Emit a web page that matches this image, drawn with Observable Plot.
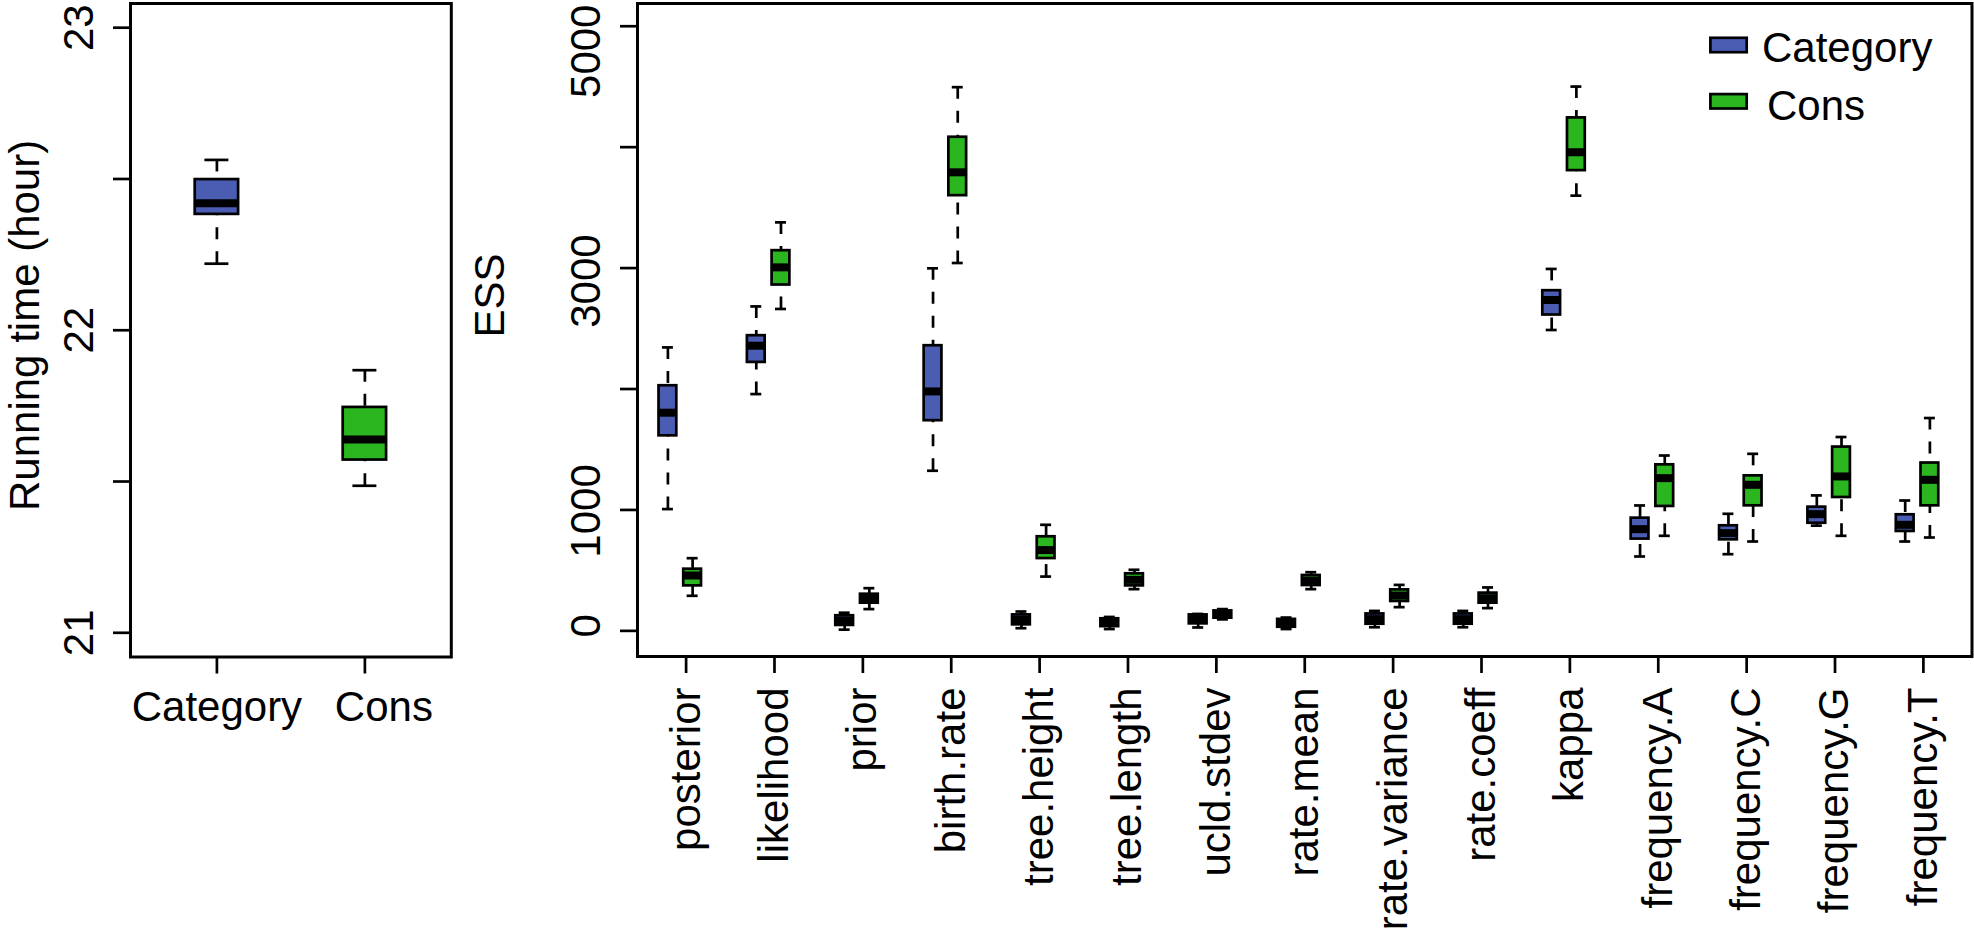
<!DOCTYPE html>
<html><head><meta charset="utf-8">
<script src="https://cdn.jsdelivr.net/npm/d3@7"></script>
<script src="https://cdn.jsdelivr.net/npm/@observablehq/plot@0.6"></script>
<style>
html,body{margin:0;padding:0;background:#fff;}
#wrap{position:relative;width:1974px;height:929px;overflow:hidden;background:#fff;}
#wrap > svg{position:absolute;top:0;}
</style></head><body><div id="wrap"></div>
<script>
// ---- Running time panel ----
const runGroups = ["Category", "Cons"];
const runLow  = [22.22, 21.486];
const runQ1   = [22.383, 21.571];
const runMed  = [22.42, 21.639];
const runQ3   = [22.498, 21.745];
const runHigh = [22.563, 21.868];
const runTicks = [21, 21.5, 22, 22.5, 23];
const runTickLabels = [21, 22, 23];

// ---- ESS panel ----
const params = ["posterior","likelihood","prior","birth.rate","tree.height","tree.length","ucld.stdev","rate.mean","rate.variance","rate.coeff","kappa","frequency.A","frequency.C","frequency.G","frequency.T"];
const catLow  = [1007, 1958, 10, 1324, 22, 15, 28, 15, 30, 30, 2488, 615, 634, 870, 739];
const catQ1   = [1613, 2220, 45, 1738, 50, 35, 58, 30, 55, 55, 2612, 759, 753, 890, 822];
const catMed  = [1804, 2358, 85, 1980, 91, 65, 97, 60, 97, 97, 2736, 841, 808, 965, 877];
const catQ3   = [2027, 2441, 125, 2358, 132, 100, 132, 95, 140, 140, 2813, 932, 869, 1023, 960];
const catHigh = [2344, 2683, 150, 2998, 160, 115, 140, 110, 165, 165, 2993, 1037, 968, 1120, 1078];
const consLow  = [290, 2662, 180, 3042, 449, 345, 95, 345, 196, 188, 3599, 786, 739, 786, 772];
const consQ1   = [372, 2860, 229, 3599, 598, 372, 105, 375, 243, 229, 3806, 1029, 1034, 1103, 1034];
const consMed  = [458, 3006, 265, 3792, 668, 422, 135, 416, 292, 270, 3958, 1263, 1208, 1277, 1249];
const consQ3   = [510, 3144, 303, 4082, 778, 472, 165, 458, 339, 312, 4242, 1373, 1282, 1520, 1388];
const consHigh = [601, 3378, 353, 4496, 877, 505, 180, 485, 380, 359, 4501, 1450, 1464, 1603, 1760];
const essTicks = [0, 1000, 2000, 3000, 4000, 5000];
const essTickLabels = [0, 1000, 3000, 5000];

const series = ["Category", "Cons"];
const seriesColors = ["#4b5cb3", "#2bb51f"];

const FONT = "'Liberation Sans', Arial, Helvetica, sans-serif";
const LW = 2.7;
const FS = 42;

const runData = runGroups.map((g, i) => ({group: g, low: runLow[i], q1: runQ1[i], med: runMed[i], q3: runQ3[i], high: runHigh[i]}));
const mk = (lo, a, m, b, hi) => params.map((p, i) => ({param: p, low: lo[i], q1: a[i], med: m[i], q3: b[i], high: hi[i]}));
const essCat = mk(catLow, catQ1, catMed, catQ3, catHigh);
const essCons = mk(consLow, consQ1, consMed, consQ3, consHigh);

const svgStyle = {fontFamily: FONT, fontSize: FS + "px", color: "black", background: "transparent", overflow: "visible"};

// Left plot
const left = Plot.plot({
  width: 470, height: 929,
  marginLeft: 130, marginRight: 19.2, marginTop: 3, marginBottom: 272.5,
  style: svgStyle,
  x: {type: "band", domain: runGroups, paddingInner: 0, paddingOuter: 0.0839, round: false, label: null},
  y: {domain: [20.92, 23.08], label: null},
  color: {domain: series, range: seriesColors},
  marks: [
    Plot.axisY({ticks: runTicks, tickSize: 17, tickFormat: () => "", strokeWidth: LW, label: null}),
    Plot.axisX({tickSize: 17, tickFormat: () => "", strokeWidth: LW, label: null}),
    Plot.text(runTickLabels, {y: d => d, text: d => String(d), frameAnchor: "left", textAnchor: "middle", lineAnchor: "middle", rotate: -90, dx: -51, fontSize: FS, fill: "black"}),
    Plot.text(runGroups.slice(0, 1), {x: d => d, text: d => d, frameAnchor: "bottom", textAnchor: "middle", lineAnchor: "top", dy: 34, fontSize: FS, fill: "black"}),
    Plot.text(runGroups.slice(1), {x: d => d, text: d => d, frameAnchor: "bottom", textAnchor: "middle", lineAnchor: "top", dx: 19, dy: 34, fontSize: FS, fill: "black"}),
    Plot.text(["Running time (hour)"], {frameAnchor: "left", textAnchor: "middle", lineAnchor: "middle", rotate: -90, dx: -105, dy: -4.85, fontSize: FS, fill: "black"}),
    Plot.ruleX(runData, {x: "group", y1: "low", y2: "q1", stroke: "black", strokeWidth: LW, strokeDasharray: "12,12"}),
    Plot.ruleX(runData, {x: "group", y1: "high", y2: "q3", stroke: "black", strokeWidth: LW, strokeDasharray: "12,12"}),
    Plot.tickY(runData, {x: "group", y: "low", stroke: "black", strokeWidth: LW, insetLeft: 62, insetRight: 62}),
    Plot.tickY(runData, {x: "group", y: "high", stroke: "black", strokeWidth: LW, insetLeft: 62, insetRight: 62}),
    Plot.barY(runData, {x: "group", y1: "q1", y2: "q3", fill: "group", stroke: "black", strokeWidth: LW, insetLeft: 52.3, insetRight: 52.3}),
    Plot.tickY(runData, {x: "group", y: "med", stroke: "black", strokeWidth: 8, insetLeft: 52.3, insetRight: 52.3}),
    Plot.frame({stroke: "black", strokeWidth: 3})
  ]
});

// Right plot
const boxMarks = (data, color, dx, boxL, boxR, capL, capR) => [
  Plot.ruleX(data, {x: "param", y1: "low", y2: "q1", dx, stroke: "black", strokeWidth: LW, strokeDasharray: "12,12"}),
  Plot.ruleX(data, {x: "param", y1: "high", y2: "q3", dx, stroke: "black", strokeWidth: LW, strokeDasharray: "12,12"}),
  Plot.tickY(data, {x: "param", y: "low", stroke: "black", strokeWidth: LW, insetLeft: capL, insetRight: capR}),
  Plot.tickY(data, {x: "param", y: "high", stroke: "black", strokeWidth: LW, insetLeft: capL, insetRight: capR}),
  Plot.barY(data, {x: "param", y1: "q1", y2: "q3", fill: color, stroke: "black", strokeWidth: LW, insetLeft: boxL, insetRight: boxR}),
  Plot.tickY(data, {x: "param", y: "med", stroke: "black", strokeWidth: 8, insetLeft: boxL, insetRight: boxR})
];

// the reference's ESS tick labels drift downward from their ticks as the value grows
const labelDrift = v => -5 + 0.006 * v;

const right = Plot.plot({
  width: 1504, height: 929,
  marginLeft: 167, marginRight: 2.5, marginTop: 3, marginBottom: 273,
  style: svgStyle,
  x: {type: "band", domain: params, paddingInner: 0, paddingOuter: 0.05, round: false, label: null},
  y: {domain: [-212, 5188], label: null},
  marks: [
    Plot.axisY({ticks: essTicks, tickSize: 17, tickFormat: () => "", strokeWidth: LW, label: null}),
    Plot.axisX({tickSize: 17, tickFormat: () => "", strokeWidth: LW, label: null}),
    ...essTickLabels.map(v => Plot.text([v], {y: d => d, text: d => String(d), frameAnchor: "left", textAnchor: "middle", lineAnchor: "middle", rotate: -90, dx: -51, dy: labelDrift(v), fontSize: FS, fill: "black"})),
    Plot.text(params, {x: d => d, text: d => d, frameAnchor: "bottom", rotate: -90, textAnchor: "end", lineAnchor: "middle", dy: 31, fontSize: FS, fill: "black"}),
    Plot.text(["ESS"], {frameAnchor: "left", textAnchor: "middle", lineAnchor: "middle", rotate: -90, dx: -147, dy: -34.5, fontSize: FS, fill: "black"}),
    ...boxMarks(essCat, seriesColors[0], -18.2, 17.1, 53.5, 20.5, 56.9),
    ...boxMarks(essCons, seriesColors[1], 6.5, 41.8, 28.8, 45.2, 32.2),
    Plot.frame({stroke: "black", strokeWidth: 3})
  ]
});
right.style.left = "470px";
left.style.left = "0px";

const wrap = document.getElementById("wrap");
wrap.appendChild(left);
wrap.appendChild(right);

// Legend
const NS = "http://www.w3.org/2000/svg";
const leg = document.createElementNS(NS, "svg");
leg.setAttribute("width", 1974); leg.setAttribute("height", 929);
leg.style.left = "0px"; leg.style.pointerEvents = "none";
const legY = [45, 101.3];
const legTextX = [1762, 1767];
const legBase = [61.7, 120];
series.forEach((s, i) => {
  const r = document.createElementNS(NS, "rect");
  r.setAttribute("x", 1710.4); r.setAttribute("y", legY[i] - 7.2);
  r.setAttribute("width", 36.3); r.setAttribute("height", 14.4);
  r.setAttribute("fill", seriesColors[i]); r.setAttribute("stroke", "black"); r.setAttribute("stroke-width", LW);
  leg.appendChild(r);
  const t = document.createElementNS(NS, "text");
  t.setAttribute("x", legTextX[i]); t.setAttribute("y", legBase[i]);
  t.setAttribute("font-family", FONT); t.setAttribute("font-size", FS); t.setAttribute("fill", "black");
  t.textContent = s;
  leg.appendChild(t);
});
wrap.appendChild(leg);
</script></body></html>
